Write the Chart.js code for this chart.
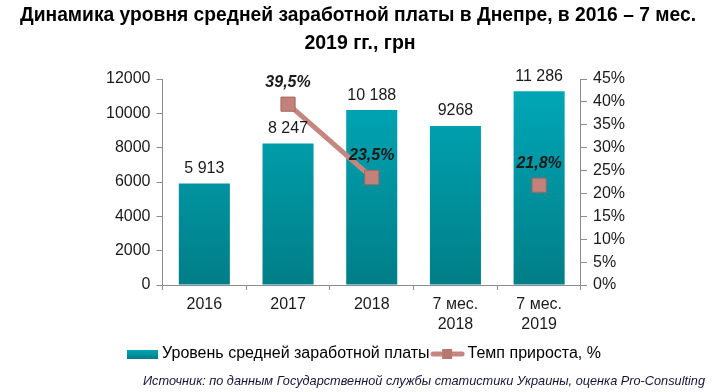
<!DOCTYPE html>
<html>
<head>
<meta charset="utf-8">
<script src="https://cdn.jsdelivr.net/npm/chart.js@4/dist/chart.umd.min.js"></script>
<style>
  html, body { margin: 0; padding: 0; background: #fff; }
  #wrap { width: 720px; height: 392px; position: relative; }
</style>
</head>
<body>
<div id="wrap"><canvas id="salaryChart"></canvas></div>
<script>
// --- data ---
const categories = ['2016', '2017', '2018', ['7 мес.', '2018'], ['7 мес.', '2019']];
const salary = [5913, 8247, 10188, 9268, 11286];
const salaryLabels = ['5 913', '8 247', '10 188', '9268', '11 286'];
const growth = [null, 39.5, 23.5, null, 21.8];
const growthLabels = [null, '39,5%', '23,5%', null, '21,8%'];

const titleLines = ['Динамика уровня средней заработной платы в Днепре, в 2016 – 7 мес.', '2019 гг., грн'];
const sourceText = 'Источник: по данным Государственной службы статистики Украины, оценка Pro-Consulting';

const FONT = '"Liberation Sans", Arial, sans-serif';
const ROSE = '#c4867e';

// legend swatches
function barSwatch() {
    const c = document.createElement('canvas');
    c.width = 31; c.height = 9;
    const g = c.getContext('2d');
    const gr = g.createLinearGradient(0, 0, 0, 9);
    gr.addColorStop(0, '#00a8b8');
    gr.addColorStop(1, '#007f88');
    g.fillStyle = gr;
    g.fillRect(0, 0, 31, 9);
    return c;
}
function lineSwatch() {
    const c = document.createElement('canvas');
    c.width = 35; c.height = 12;
    const g = c.getContext('2d');
    g.strokeStyle = ROSE;
    g.lineWidth = 5;
    g.lineCap = 'round';
    g.beginPath(); g.moveTo(3, 6); g.lineTo(32, 6); g.stroke();
    g.fillStyle = '#b8766e';
    g.fillRect(12, 1, 10, 10);
    return c;
}

// title, source line and the value labels
const extras = {
    id: 'extras',
    afterDraw(chart) {
        const ctx = chart.ctx;
        ctx.save();
        ctx.fillStyle = '#000';
        ctx.textAlign = 'center';
        ctx.textBaseline = 'middle';
        ctx.font = 'bold 19.5px ' + FONT;
        ctx.fillText(titleLines[0], 358, 16, 676);
        ctx.fillText(titleLines[1], 360, 44);

        ctx.textAlign = 'right';
        ctx.fillStyle = '#141438';
        ctx.font = 'italic 13px ' + FONT;
        ctx.fillText(sourceText, 705, 381, 562);
        ctx.restore();
    },
    afterDatasetsDraw(chart) {
        const ctx = chart.ctx;
        ctx.save();
        ctx.textAlign = 'center';
        ctx.textBaseline = 'bottom';
        ctx.fillStyle = '#1a1a1a';
        chart.getDatasetMeta(0).data.forEach((bar, i) => {
            ctx.font = '16px ' + FONT;
            ctx.fillText(salaryLabels[i], bar.x, bar.y - 7);
        });
        chart.getDatasetMeta(1).data.forEach((pt, i) => {
            if (growthLabels[i] == null) return;
            ctx.font = 'italic bold 16px ' + FONT;
            ctx.fillText(growthLabels[i], pt.x, pt.y - 14);
        });
        ctx.restore();
    }
};

const tickFont = { family: FONT, size: 16, lineHeight: 1.25 };
const yTickFont = { family: FONT, size: 16, lineHeight: 1 };

new Chart(document.getElementById('salaryChart'), {
    data: {
        labels: categories,
        datasets: [{
            type: 'bar',
            label: 'Уровень средней заработной платы',
            data: salary,
            yAxisID: 'y',
            order: 2,
            barPercentage: 0.61,
            categoryPercentage: 1,
            backgroundColor: (ctx) => {
                const area = ctx.chart.chartArea;
                if (!area) return '#0097a7';
                const g = ctx.chart.ctx.createLinearGradient(0, area.top, 0, area.bottom);
                g.addColorStop(0, '#00a9b9');
                g.addColorStop(1, '#007e87');
                return g;
            }
        }, {
            type: 'line',
            label: 'Темп прироста, %',
            data: growth,
            yAxisID: 'y1',
            order: 1,
            spanGaps: false,
            borderColor: ROSE,
            borderWidth: 5,
            pointStyle: 'rect',
            pointRadius: 10,
            pointBackgroundColor: '#c0827a',
            pointBorderColor: '#a8665e',
            pointBorderWidth: 1
        }]
    },
    options: {
        responsive: true,
        maintainAspectRatio: false,
        animation: false,
        layout: { padding: { left: 100, right: 89, top: 79, bottom: 20 } },
        plugins: {
            title: { display: false },
            legend: {
                position: 'bottom',
                labels: {
                    usePointStyle: true,
                    pointStyleWidth: 24,
                    color: '#1a1a1a',
                    font: { family: FONT, size: 16 },
                    padding: 6,
                    generateLabels: (chart) => chart.data.datasets.map((ds, i) => ({
                        text: ds.label,
                        pointStyle: i === 0 ? barSwatch() : lineSwatch(),
                        datasetIndex: i,
                        hidden: false,
                        lineWidth: 0
                    }))
                }
            },
            tooltip: { enabled: false }
        },
        scales: {
            x: {
                grid: { display: true, drawOnChartArea: false, drawTicks: true, tickLength: 5, tickColor: '#8c8c8c' },
                border: { color: '#8c8c8c' },
                ticks: { color: '#1a1a1a', font: tickFont, maxRotation: 0, autoSkip: false, padding: 5 }
            },
            y: {
                position: 'left',
                min: 0, max: 12000,
                ticks: { stepSize: 2000, autoSkip: false, color: '#1a1a1a', font: yTickFont, padding: 6, callback: (v) => String(v) },
                grid: { display: true, drawTicks: true, tickLength: 6, tickColor: '#8c8c8c', drawOnChartArea: false },
                border: { color: '#8c8c8c' }
            },
            y1: {
                position: 'right',
                min: 0, max: 45,
                ticks: { stepSize: 5, autoSkip: false, color: '#1a1a1a', font: yTickFont, padding: 6, callback: (v) => v + '%' },
                grid: { display: true, drawTicks: true, tickLength: 6, tickColor: '#8c8c8c', drawOnChartArea: false },
                border: { color: '#8c8c8c' }
            }
        }
    },
    plugins: [extras]
});
</script>
</body>
</html>
